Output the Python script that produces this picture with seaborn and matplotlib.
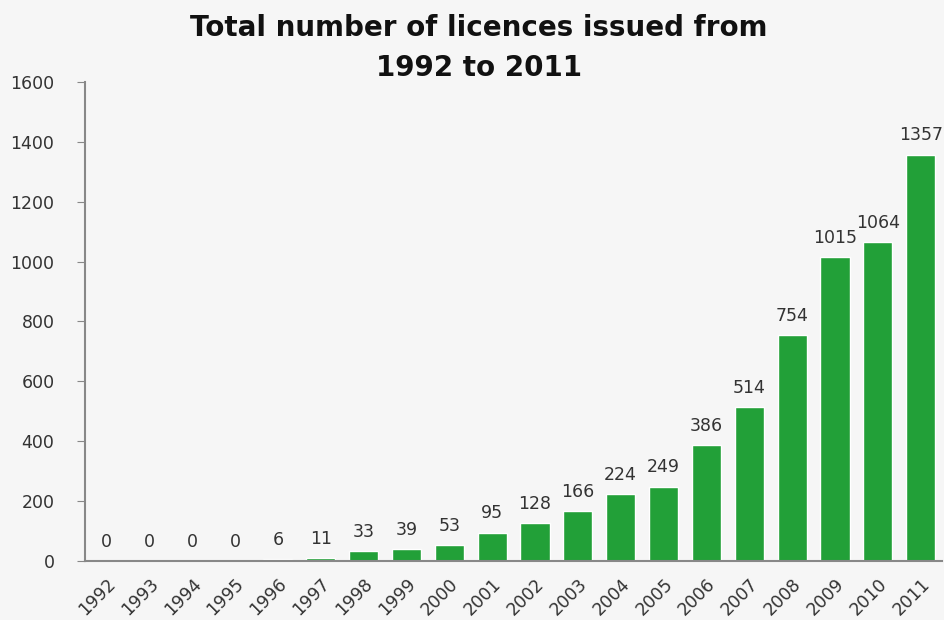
import matplotlib
matplotlib.use("Agg")
import matplotlib.pyplot as plt
import seaborn as sns
import numpy as np
import pandas as pd

# data
years = ['1992', '1993', '1994', '1995', '1996', '1997', '1998', '1999', '2000', '2001',
         '2002', '2003', '2004', '2005', '2006', '2007', '2008', '2009', '2010', '2011']
licences = [0, 0, 0, 0, 6, 11, 33, 39, 53, 95,
            128, 166, 224, 249, 386, 514, 754, 1015, 1064, 1357]
y_ticks = [0, 200, 400, 600, 800, 1000, 1200, 1400, 1600]

df = pd.DataFrame({'year': years, 'licences': licences})

sns.set_style("white")
plt.rcParams['font.family'] = ['DejaVu Sans']

bg = '#f6f6f6'
fig = plt.figure(figsize=(9.44, 6.2), dpi=100, facecolor=bg)
ax = fig.add_axes([0.09, 0.095, 0.908, 0.773])
ax.set_facecolor(bg)

sns.barplot(data=df, x='year', y='licences', color='#22a038', saturation=1,
            width=0.68, ax=ax)

# value labels above bars
for i, v in enumerate(licences):
    ax.text(i, v + 34, str(v), ha='center', va='bottom', fontsize=12.5, color='#333333')

ax.set_ylim(0, 1600)
ax.set_xlim(-0.5, len(years) - 0.5)
ax.set_yticks(y_ticks)
ax.set_yticklabels([str(t) for t in y_ticks], fontsize=12.5, color='#333333')
ax.set_xticks(range(len(years)))
ax.set_xticklabels(years, rotation=45, ha='right', rotation_mode='anchor',
                   fontsize=12.5, color='#333333')
ax.set_xlabel('')
ax.set_ylabel('')

# excel-style ticks between categories
ax.set_xticks(np.arange(-0.5, len(years), 1.0), minor=True)
ax.tick_params(axis='x', which='major', length=0, pad=10)
ax.tick_params(axis='x', which='minor', length=6, color='#888888', direction='out')
ax.tick_params(axis='y', length=6, color='#888888', direction='out', left=True, pad=16)

for s in ['top', 'right']:
    ax.spines[s].set_visible(False)
for s in ['left', 'bottom']:
    ax.spines[s].set_color('#888888')
    ax.spines[s].set_linewidth(1.5)

fig.text(0.507, 0.978, 'Total number of licences issued from\n1992 to 2011',
         ha='center', va='top', fontsize=20, fontweight='bold', color='#111111',
         linespacing=1.55)

plt.savefig('out.png', dpi=100, facecolor=bg)
